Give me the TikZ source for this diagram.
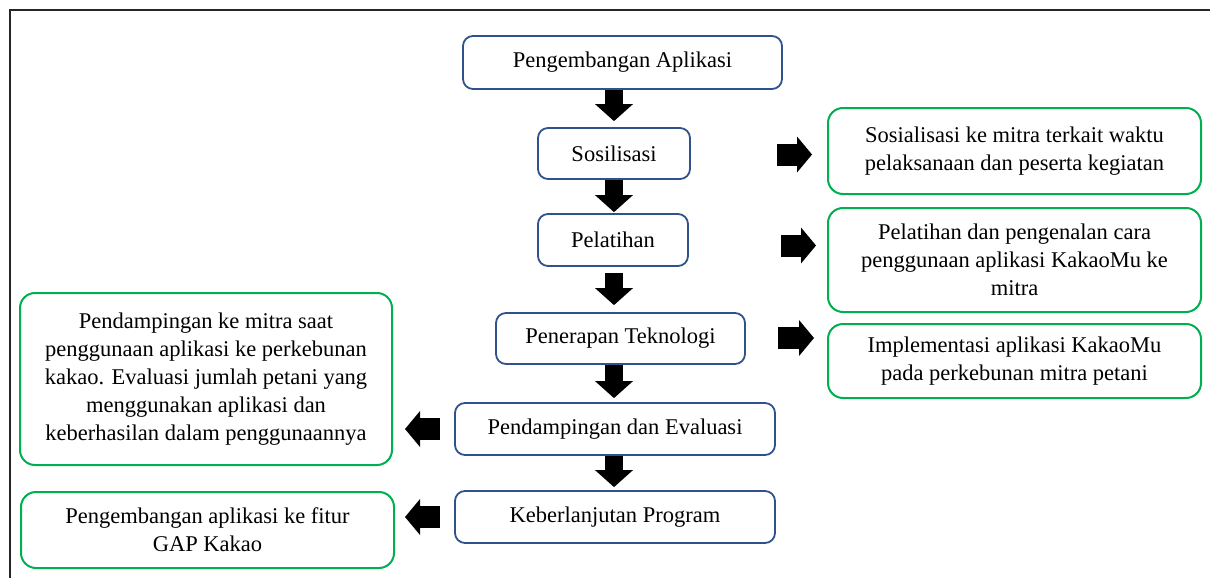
\documentclass[tikz,border=0pt]{standalone}
\usepackage{fontspec}
\setmainfont{Liberation Serif}
\usetikzlibrary{arrows.meta}
\definecolor{boxblue}{HTML}{2F528F}
\definecolor{boxgreen}{HTML}{00B050}
\begin{document}
\begin{tikzpicture}[x=1pt,y=-1pt,
  every node/.style={font=\fontsize{22.5}{28}\selectfont, inner sep=0pt, align=center},
  bluebox/.style={draw=boxblue, line width=1.8pt, rounded corners=10pt},
  greenbox/.style={draw=boxgreen, line width=2pt, rounded corners=15pt},
  vblk/.style={line width=18pt, -{Triangle[width=38pt,length=17pt,line width=0pt]}},
  hblk/.style={line width=22pt, -{Triangle[width=36pt,length=15pt,line width=0pt]}}]
\useasboundingbox (0,0) rectangle (1210,578);
\draw[line width=2pt, black!85] (10,578) -- (10,10) -- (1210,10);

% centre column
\node[bluebox, minimum width=319pt, minimum height=53pt] (b1) at (622.5,62.5) {Pengembangan Aplikasi};
\node[bluebox, minimum width=152pt, minimum height=51pt] (b2) at (614,153.5) {Sosilisasi};
\node[bluebox, minimum width=150pt, minimum height=52pt] (b3) at (613,240) {Pelatihan};
\node[bluebox, minimum width=249pt, minimum height=51pt] (b4) at (620.5,338.5) {Penerapan Teknologi};
\node[bluebox, minimum width=320pt, minimum height=52pt] (b5) at (615,429) {Pendampingan dan Evaluasi};
\node[bluebox, minimum width=320pt, minimum height=52pt] (b6) at (615,517) {Keberlanjutan Program};

% right boxes
\node[greenbox, minimum width=373pt, minimum height=86pt] (r1) at (1014.5,151) {Sosialisasi ke mitra terkait waktu\\pelaksanaan dan peserta kegiatan};
\node[greenbox, minimum width=373pt, minimum height=104pt] (r2) at (1014.5,260) {Pelatihan dan pengenalan cara\\penggunaan aplikasi KakaoMu ke\\mitra};
\node[greenbox, minimum width=373pt, minimum height=74pt] (r3) at (1014.5,361) {Implementasi aplikasi KakaoMu\\pada perkebunan mitra petani};

% left boxes
\node[greenbox, minimum width=372pt, minimum height=172pt] (l1) at (206,379) {Pendampingan ke mitra saat\\penggunaan aplikasi ke perkebunan\\kakao. Evaluasi jumlah petani yang\\menggunakan aplikasi dan\\keberhasilan dalam penggunaannya};
\node[greenbox, minimum width=373pt, minimum height=76pt] (l2) at (207.5,530) {Pengembangan aplikasi ke fitur\\GAP Kakao};

% vertical block arrows
\coordinate (col) at (614,0);
\draw[vblk] (b1.south -| col) -- (b2.north -| col) [shorten >=6pt];
\draw[vblk, shorten >=1pt] (b2.south -| col) -- (b3.north -| col);
\draw[vblk, shorten <=6pt, shorten >=7pt] (b3.south -| col) -- (b4.north -| col);
\draw[vblk, shorten >=4pt] (b4.south -| col) -- (b5.north -| col);
\draw[vblk, shorten >=3pt] (b5.south -| col) -- (b6.north -| col);

% right block arrows
\coordinate (rs1) at (777,154.5);
\coordinate (rs2) at (781,245.5);
\coordinate (rs3) at (778,338);
\draw[hblk, shorten >=15pt] (rs1) -- (rs1 -| r1.west);
\draw[hblk, shorten >=11pt] (rs2) -- (rs2 -| r2.west);
\draw[hblk, shorten >=13pt] (rs3) -- (rs3 -| r3.west);

% left block arrows
\draw[hblk, shorten <=14pt, shorten >=12pt] (b5.west) -- (l1.east |- b5.west);
\draw[hblk, shorten <=14pt, shorten >=10pt] (b6.west) -- (l2.east |- b6.west);
\end{tikzpicture}
\end{document}
